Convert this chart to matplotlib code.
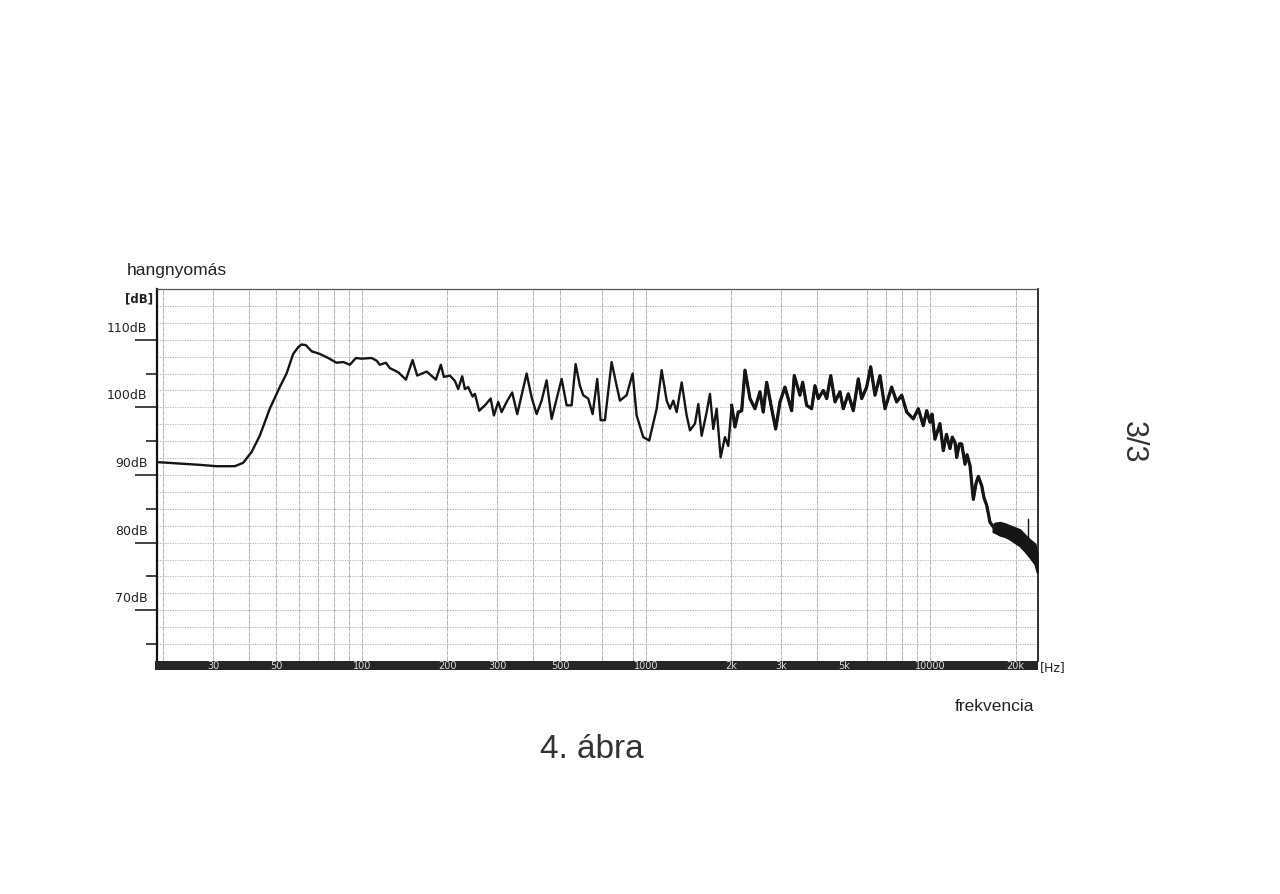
import matplotlib
matplotlib.use("Agg")
import matplotlib.pyplot as plt
import matplotlib.transforms as mtransforms
from matplotlib.patches import Rectangle

# ---- data (frequency in Hz, level in dB) ----
freq_hz = [
    19.1, 26.9, 30.8, 35.7, 38.2, 40.9, 43.7, 47.4, 51.4, 54.3, 57.3, 59.7, 61.3, 63.5,
    66.5, 71.1, 76.1, 81.4, 86.0, 90.7, 95.3, 99.8, 108.2, 112.7, 115.7, 121.5, 125.5,
    134.2, 142.9, 150.8, 156.6, 169.0, 182.2, 189.7, 194.4, 204.1, 212.6, 218.3, 225.5,
    230.5, 236.7, 245.3, 250.0, 258.8, 271.1, 284.0, 291.6, 302.0, 310.4, 323.2, 338.2,
    352.3, 380.2, 395.8, 412.2, 429.3, 447.0, 465.6, 504.9, 525.8, 547.5, 565.5, 585.5,
    601.4, 626.3, 649.1, 673.8, 692.6, 717.1, 757.2, 788.5, 810.0, 855.1, 897.8, 927.5,
    978.4, 1027, 1091, 1136, 1183, 1215, 1248, 1283, 1336, 1391, 1429, 1488, 1529, 1571,
    1636, 1680, 1726, 1774, 1832, 1897, 1949, 2004, 2058, 2113, 2173, 2232, 2324, 2420,
    2520, 2588, 2661, 2771, 2862, 2964, 3086, 3258, 3328, 3485, 3562, 3679, 3832, 3936,
    4044, 4211, 4329, 4472, 4630, 4821, 4952, 5157, 5370, 5592, 5748, 5985, 6183, 6402,
    6667, 6942, 7330, 7633, 7950, 8279, 8735, 9096, 9471, 9737, 10000, 10170, 10410,
    10840, 11140, 11430, 11760, 11980, 12250, 12420, 12680, 12930, 13280, 13500, 13830,
    14210, 14530, 14800, 15210, 15500, 15840, 16270, 16670,
]
level_db = [
    91.9, 91.5, 91.3, 91.3, 91.8, 93.4, 95.8, 99.8, 103.0, 105.0, 107.9, 108.9, 109.3, 109.2,
    108.3, 107.9, 107.3, 106.6, 106.7, 106.3, 107.3, 107.2, 107.3, 106.9, 106.3, 106.6, 105.8,
    105.2, 104.1, 107.0, 104.7, 105.3, 104.1, 106.3, 104.5, 104.7, 103.9, 102.7, 104.6,
    102.7, 103.0, 101.6, 102.0, 99.5, 100.3, 101.3, 98.8, 100.8, 99.3, 100.8, 102.2,
    99.0, 105.0, 101.5, 99.0, 101.0, 104.0, 98.3, 104.2, 100.3, 100.3, 106.4, 103.2,
    101.8, 101.3, 99.0, 104.2, 98.1, 98.1, 106.7, 103.2, 101.0, 101.8, 105.0, 98.8,
    95.6, 95.1, 99.8, 105.5, 101.0, 99.8, 101.0, 99.3, 103.7, 98.8, 96.6, 97.6, 100.5, 95.8,
    99.3, 102.0, 96.8, 99.8, 92.6, 95.6, 94.3, 100.3, 97.1, 99.3, 99.5, 105.5, 101.3, 99.8,
    102.3, 99.3, 103.7, 99.8, 96.8, 100.8, 103.0, 99.5, 104.7, 101.8, 103.7, 100.3, 99.8, 103.2,
    101.3, 102.5, 101.3, 104.7, 100.8, 102.3, 99.8, 102.0, 99.5, 104.2, 101.3, 103.0, 106.0, 101.8,
    104.7, 99.8, 103.0, 100.8, 101.8, 99.3, 98.3, 99.8, 97.3, 99.5, 97.8, 99.0, 95.3,
    97.6, 93.6, 96.0, 93.9, 95.6, 94.8, 92.6, 94.6, 94.6, 91.6, 93.0, 91.4,
    86.4, 88.8, 89.8, 88.4, 86.6, 85.5, 83.0, 82.4,
]
# dense noise band at the top end: upper / lower edge of the trace
band_hz = [16670, 16940, 17640, 18370, 19130, 19930, 20750, 21610, 22510, 23430, 23830]
band_upper_db = [82.6, 82.9, 83.0, 82.8, 82.5, 82.2, 81.9, 81.1, 80.4, 79.8, 78.3]
band_lower_db = [81.6, 81.5, 81.1, 80.9, 80.5, 80.0, 79.5, 78.7, 77.8, 76.8, 75.6]
spike_hz = [22190, 22190]
spike_db = [80.5, 83.5]

ytick_major = [70, 80, 90, 100, 110]
ytick_minor = [65, 75, 85, 95, 105]
ytick_labels = ["70dB", "80dB", "90dB", "100dB", "110dB"]
xgrid_hz = [20, 30, 40, 50, 60, 70, 80, 90, 100, 200, 300, 400, 500, 700, 900,
            1000, 2000, 3000, 4000, 6000, 7000, 8000, 9000, 10000, 20000]
ygrid_db = [65 + 2.5 * i for i in range(21)]
xlabel_hz = [30, 50, 100, 200, 300, 500, 1000, 2000, 3000, 5000, 10000, 20000]
xlabel_txt = ["30", "50", "100", "200", "300", "500", "1000", "2k", "3k", "5k", "10000", "20k"]

W, H = 1280, 895
fig = plt.figure(figsize=(W / 100, H / 100), dpi=100)
fig.patch.set_facecolor("white")

ax_l, ax_r, ax_t, ax_b = 157, 1038, 290, 662
ax = fig.add_axes([ax_l / W, 1 - ax_b / H, (ax_r - ax_l) / W, (ax_b - ax_t) / H])
ax.set_xscale("log")
ax.set_xlim(19, 24000)
ax.set_ylim(62.5, 117.5)

grid_col = "#a8a8a8"
for g in xgrid_hz:
    ax.axvline(g, color=grid_col, lw=0.6, ls=(0, (6, 1.2)), zorder=1)
for g in ygrid_db:
    ax.axhline(g, color=grid_col, lw=0.6, ls=(0, (1.5, 1.5)), zorder=1)

ink = "#151515"
ax.plot(freq_hz, level_db, color=ink, lw=1.7, zorder=3, solid_joinstyle="round")
hf = [(f, v) for f, v in zip(freq_hz, level_db) if f >= 2000]
ax.plot([p[0] for p in hf], [p[1] for p in hf], color=ink, lw=2.3, zorder=3,
        solid_joinstyle="round")
ax.fill_between(band_hz, band_lower_db, band_upper_db, color=ink, lw=1.5,
                edgecolor=ink, zorder=3)
ax.plot(spike_hz, spike_db, color=ink, lw=1.0, zorder=3)

# axes decoration
ax.xaxis.set_major_locator(matplotlib.ticker.NullLocator())
ax.xaxis.set_minor_locator(matplotlib.ticker.NullLocator())
ax.set_yticks(ytick_major)
ax.set_yticks(ytick_minor, minor=True)
ax.tick_params(axis="y", which="major", length=15.5, width=1.1, direction="out",
               labelleft=False, color="#111111")
ax.tick_params(axis="y", which="minor", length=8, width=1.1, direction="out",
               color="#111111")
ax.spines["left"].set_linewidth(1.6)
ax.spines["left"].set_color("#111111")
ax.spines["top"].set_linewidth(0.9)
ax.spines["top"].set_color("#555555")
ax.spines["right"].set_linewidth(1.3)
ax.spines["right"].set_color("#222222")
ax.spines["bottom"].set_visible(False)

narrow = ["Liberation Sans Narrow", "DejaVu Sans"]
trans_y = mtransforms.blended_transform_factory(ax.transAxes, ax.transData)
for v, t in zip(ytick_major, ytick_labels):
    ax.text(-0.011, v + 0.9, t, transform=trans_y, ha="right", va="bottom",
            fontsize=9, family=narrow, color="#222222")

# dark frequency bar below the plot
bar_h = 9 / (ax_b - ax_t)
ax.add_patch(Rectangle((-0.002, -bar_h), 1.002, bar_h, transform=ax.transAxes,
                       facecolor="#262626", edgecolor="none", clip_on=False, zorder=5))
trans_x = mtransforms.blended_transform_factory(ax.transData, ax.transAxes)
for f, t in zip(xlabel_hz, xlabel_txt):
    ax.text(f, -bar_h / 2, t, transform=trans_x, ha="center", va="center",
            fontsize=7, family=narrow, color="#e0e0e0", zorder=6, clip_on=False)

# texts around the chart
fig.text(127 / W, 1 - 270 / H, "hangnyomás", ha="left", va="center",
         fontsize=12.5, family=["Liberation Sans", "DejaVu Sans"], color="#222222")
fig.text(139 / W, 1 - 299 / H, "[dB]", ha="center", va="center",
         fontsize=8.5, family=["DejaVu Sans"], fontweight="bold", color="#222222")
fig.text(1040 / W, 1 - 668 / H, "[Hz]", ha="left", va="center",
         fontsize=9, family=narrow, color="#222222")
fig.text(955 / W, 1 - 707 / H, "frekvencia", ha="left", va="center",
         fontsize=12.5, family=["Liberation Sans", "DejaVu Sans"], color="#222222")
fig.text(592 / W, 1 - 750 / H, "4. ábra", ha="center", va="center",
         fontsize=24, family=["Liberation Sans", "DejaVu Sans"], color="#333333")
fig.text(1133 / W, 1 - 442 / H, "3/3", ha="center", va="center", rotation=-90,
         fontsize=22, family=["Liberation Sans", "DejaVu Sans"], color="#333333")

fig.savefig("out.png", dpi=100, facecolor="white")
